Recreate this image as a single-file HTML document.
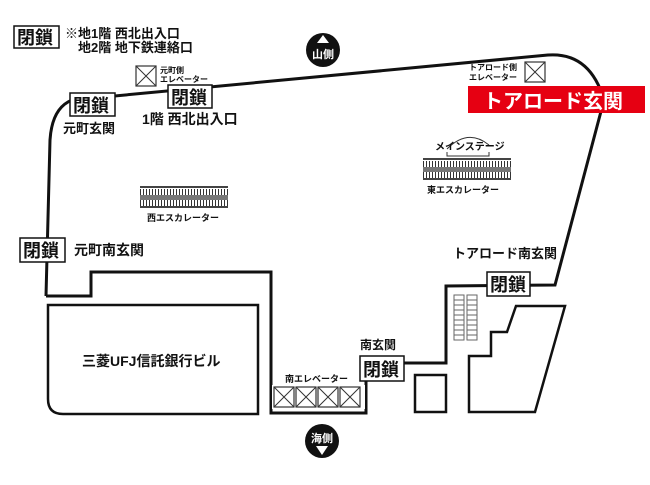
<!DOCTYPE html>
<html><head><meta charset="utf-8"><style>
body{margin:0;background:#fff}
svg text{font-family:"Liberation Sans","Noto Sans CJK JP",sans-serif;font-weight:bold;fill:#111}
</style></head><body>
<svg width="650" height="480" viewBox="0 0 650 480" xmlns="http://www.w3.org/2000/svg">
<defs>
<pattern id="tk" width="3" height="6" patternUnits="userSpaceOnUse"><rect width="3" height="6" fill="#fff"/><rect width="1" height="6" fill="#333"/></pattern>
<g id="esc">
<rect x="0" y="0" width="88" height="2" fill="#444"/>
<rect x="0" y="3" width="88" height="6" fill="url(#tk)"/>
<rect x="0" y="9" width="88" height="5" fill="#777"/>
<rect x="0" y="14" width="88" height="6" fill="url(#tk)"/>
<rect x="0" y="20" width="88" height="2" fill="#444"/>
</g>
<g id="xb"><rect x="0" y="0" width="20" height="20" fill="#fff" stroke="#333" stroke-width="1.2"/><path d="M0 0L20 20M20 0L0 20" stroke="#333" stroke-width="1"/></g>
</defs>
<g fill="none" stroke="#111" stroke-width="3">
<path d="M46 296 L50 140 Q52 108 72 100 L548 55 Q590 52 604 100 L555 285 L446 286 L446 363 L403 363"/>
<path d="M46 296 L91 296 L91 272 L271 272 L271 413 L366 413 L366 381"/>
<path d="M63 305 L258 305 L258 414 L63 414 Q48 414 48 399 L48 305 Z" stroke-width="2.5"/>
<rect x="415" y="375" width="31" height="37" stroke-width="2.5"/>
<path d="M469 356 L491 356 L491 332 L507 332 L516 306 L565 306 L535 412 L469 412 Z" stroke-width="2.5"/>
</g>
<rect x="272" y="385" width="93" height="24" fill="#fff"/>
<use href="#xb" x="274" y="387"/><use href="#xb" x="296" y="387"/><use href="#xb" x="318" y="387"/><use href="#xb" x="340" y="387"/>
<text x="285" y="382" font-size="9">南エレベーター</text>
<g stroke="#666" stroke-width="1" fill="#fff">
<rect x="454" y="295" width="10" height="45"/><rect x="467" y="295" width="10" height="45"/>
<path d="M454 300h10M454 305h10M454 310h10M454 315h10M454 320h10M454 325h10M454 330h10M454 335h10M467 300h10M467 305h10M467 310h10M467 315h10M467 320h10M467 325h10M467 330h10M467 335h10"/>
</g>
<use href="#esc" x="140" y="186"/>
<text x="147" y="221" font-size="9">西エスカレーター</text>
<use href="#esc" x="423" y="158"/>
<text x="427" y="193" font-size="9">東エスカレーター</text>
<path d="M447 149 Q468 128 489 145" fill="none" stroke="#333" stroke-width="1"/>
<text x="435" y="150" font-size="10">メインステージ</text>
<path d="M447 152 v4 h42 v-4" fill="none" stroke="#333" stroke-width="1"/>
<use href="#xb" x="136" y="66"/>
<text x="160" y="73" font-size="8">元町側</text>
<text x="160" y="82" font-size="8">エレベーター</text>
<use href="#xb" x="525" y="62"/>
<text x="469" y="70" font-size="8">トアロード側</text>
<text x="469" y="80" font-size="8">エレベーター</text>
<rect x="468" y="86" width="177" height="27" fill="#e60012"/>
<text x="483" y="108" font-size="20" style="fill:#fff">トアロード玄関</text>
<circle cx="323" cy="50" r="17" fill="#111"/>
<path d="M317 43 L323 35 L329 43Z" fill="#fff"/>
<text x="323" y="58" font-size="11" text-anchor="middle" style="fill:#fff">山側</text>
<circle cx="322" cy="441" r="17" fill="#111"/>
<text x="322" y="442" font-size="11" text-anchor="middle" style="fill:#fff">海側</text>
<path d="M316 446 L322 455 L328 446Z" fill="#fff"/>
<g>
<rect x="14" y="26" width="45" height="22" fill="#fff" stroke="#111" stroke-width="1.5"/>
<text x="17" y="44" font-size="18">閉鎖</text>
<rect x="70" y="93" width="45" height="23" fill="#fff" stroke="#111" stroke-width="1.5"/>
<text x="73" y="112" font-size="18">閉鎖</text>
<rect x="168" y="85" width="44" height="23" fill="#fff" stroke="#111" stroke-width="1.5"/>
<text x="171" y="104" font-size="18">閉鎖</text>
<rect x="20" y="238" width="45" height="24" fill="#fff" stroke="#111" stroke-width="1.5"/>
<text x="23" y="257" font-size="18">閉鎖</text>
<rect x="487" y="272" width="43" height="24" fill="#fff" stroke="#111" stroke-width="1.5"/>
<text x="490" y="291" font-size="18">閉鎖</text>
<rect x="360" y="356" width="44" height="25" fill="#fff" stroke="#111" stroke-width="1.5"/>
<text x="363" y="376" font-size="18">閉鎖</text>
</g>
<text x="65" y="38" font-size="13">※地1階 西北出入口</text>
<text x="78" y="52" font-size="13">地2階 地下鉄連絡口</text>
<text x="142" y="124" font-size="14">1階 西北出入口</text>
<text x="63" y="133" font-size="13">元町玄関</text>
<text x="74" y="255" font-size="14">元町南玄関</text>
<text x="453" y="258" font-size="13">トアロード南玄関</text>
<text x="360" y="349" font-size="12">南玄関</text>
<text x="82" y="366" font-size="14">三菱UFJ信託銀行ビル</text>
</svg>
</body></html>
